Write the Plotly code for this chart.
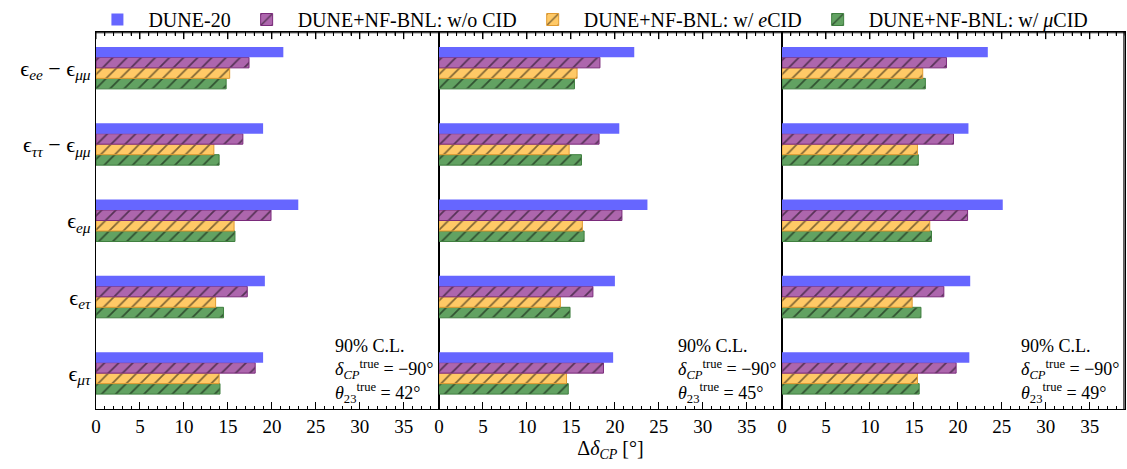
import plotly.graph_objects as go
from plotly.subplots import make_subplots

categories = ["ϵ<sub><i>ee</i></sub> − ϵ<sub><i>μμ</i></sub>",
              "ϵ<sub><i>ττ</i></sub> − ϵ<sub><i>μμ</i></sub>",
              "ϵ<sub><i>eμ</i></sub>",
              "ϵ<sub><i>eτ</i></sub>",
              "ϵ<sub><i>μτ</i></sub>"]

theta23 = ["42°", "45°", "49°"]

# values per panel (theta23 = 42, 45, 49), categories in order above
dune20 = [[21.3, 19.0, 23.0, 19.2, 19.0],
          [22.2, 20.5, 23.7, 20.0, 19.8],
          [23.4, 21.2, 25.1, 21.4, 21.3]]
nf_wo_cid = [[17.4, 16.7, 19.9, 17.2, 18.1],
             [18.3, 18.2, 20.8, 17.5, 18.7],
             [18.7, 19.5, 21.1, 18.4, 19.8]]
nf_ecid = [[15.2, 13.4, 15.7, 13.6, 14.0],
           [15.7, 14.8, 16.3, 13.8, 14.5],
           [16.0, 15.4, 16.8, 14.8, 15.4]]
nf_mucid = [[14.8, 14.0, 15.8, 14.5, 14.1],
            [15.4, 16.2, 16.5, 14.9, 14.7],
            [16.3, 15.5, 17.0, 15.8, 15.6]]

x_ticks = [0, 5, 10, 15, 20, 25, 30, 35]
x_range = [0, 39]

series = [
    # name, data, fill, edge, hatch, rank
    ("DUNE+NF-BNL: w/ <i>μ</i>CID", nf_mucid, "#62a262", "#3f7f3f", "/", 4),
    ("DUNE+NF-BNL: w/ <i>e</i>CID", nf_ecid, "#ffc966", "#e09a30", "/", 3),
    ("DUNE+NF-BNL: w/o CID", nf_wo_cid, "#ad66ad", "#7a2a7a", "/", 2),
    ("DUNE-20", dune20, "#6666ff", "#6666ff", "", 1),
]

FONT = "'Liberation Serif', 'DejaVu Serif', serif"

fig = make_subplots(rows=1, cols=3, shared_yaxes=True, horizontal_spacing=0)

for p in range(3):
    for name, data, fill, edge, hatch, rank in series:
        fig.add_trace(go.Bar(
            y=categories, x=data[p], orientation="h", name=name,
            legendrank=rank, showlegend=(p == 0), legendgroup=name,
            marker=dict(color=fill,
                        line=dict(color=edge, width=1 if hatch else 0),
                        pattern=dict(shape=hatch, fgcolor="black", bgcolor=fill,
                                     size=10, solidity=0.17, fillmode="overlay")),
        ), row=1, col=p + 1)

    xs = "" if p == 0 else str(p + 1)
    fig.add_annotation(
        text=f"90% C.L.<br><i>δ</i><sub><i>CP</i></sub><sup>true</sup> = −90°<br><i>θ</i><sub>23</sub><sup>true</sup> = {theta23[p]}",
        xref=f"x{xs} domain", yref="y domain",
        x=0.99, y=0.003, xanchor="right", yanchor="bottom", align="left",
        showarrow=False, font=dict(family=FONT, size=18, color="black"))

    # ticks along the top edge of each panel (mirror of the bottom axis)
    for t in range(x_range[0], x_range[1] + 1):
        major = t in x_ticks
        fig.add_shape(type="line", xref=f"x{xs}", yref="y domain",
                      x0=t, x1=t, y0=1, y1=1 - (0.019 if major else 0.0095),
                      line=dict(color="black", width=1), layer="above")

for p in range(3):
    fig.update_xaxes(range=x_range, tickvals=x_ticks, ticks="inside", ticklen=7,
                     tickcolor="black", showline=True, linecolor="black", linewidth=1,
                     mirror="allticks", showgrid=False, zeroline=False,
                     minor=dict(dtick=1, ticks="inside", ticklen=3.5, tickcolor="black"),
                     tickfont=dict(family=FONT, size=19, color="black"),
                     row=1, col=p + 1)
fig.update_xaxes(title=dict(text="Δ<i>δ</i><sub><i>CP</i></sub> [°]",
                            font=dict(family=FONT, size=20, color="black"), standoff=4),
                 row=1, col=2)

fig.update_yaxes(categoryorder="array", categoryarray=categories[::-1],
                 range=[-0.47, 4.47], showline=True, linecolor="black", linewidth=1,
                 mirror=True, showgrid=False, ticks="",
                 tickfont=dict(family=FONT, size=22, color="black"))

# outer frame (top and right edges) in paper coordinates
fig.add_shape(type="line", xref="paper", yref="paper", x0=0, x1=1, y0=0.998, y1=0.998,
              line=dict(color="black", width=1.2), layer="above")
fig.add_shape(type="line", xref="paper", yref="paper", x0=0.999, x1=0.999, y0=0, y1=1,
              line=dict(color="black", width=1.2), layer="above")

fig.update_layout(
    width=1127, height=469,
    margin=dict(l=96, r=2, t=32, b=60, autoexpand=False),
    barmode="group", bargap=0.45, bargroupgap=0,
    plot_bgcolor="white", paper_bgcolor="white",
    font=dict(family=FONT, color="black"),
    legend=dict(orientation="h", x=0.48, xanchor="center",
                y=1.0, yanchor="top", yref="container",
                font=dict(family=FONT, size=20, color="black"),
                itemwidth=52, traceorder="normal", bgcolor="rgba(0,0,0,0)"),
)

fig.write_html("out.html")
